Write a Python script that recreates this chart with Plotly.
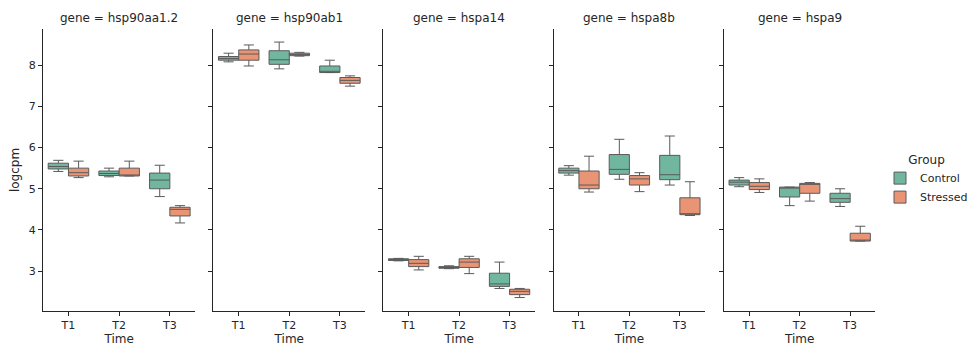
import plotly.graph_objects as go

genes = ["hsp90aa1.2", "hsp90ab1", "hspa14", "hspa8b", "hspa9"]
times = ["T1", "T2", "T3"]
groups = ["Control", "Stressed"]

# per gene -> per time
ctrl_lo  = [[5.42, 5.29, 4.81], [8.08, 7.91, 7.82], [3.25, 3.06, 2.58], [5.33, 5.23, 5.09], [5.05, 4.59, 4.57]]
ctrl_q1  = [[5.48, 5.32, 5.00], [8.12, 8.02, 7.82], [3.26, 3.07, 2.63], [5.38, 5.35, 5.22], [5.09, 4.80, 4.67]]
ctrl_med = [[5.54, 5.37, 5.21], [8.16, 8.13, 7.85], [3.28, 3.09, 2.69], [5.44, 5.47, 5.34], [5.16, 5.03, 4.76]]
ctrl_q3  = [[5.62, 5.43, 5.38], [8.21, 8.35, 7.98], [3.30, 3.11, 2.95], [5.50, 5.83, 5.81], [5.21, 5.04, 4.89]]
ctrl_hi  = [[5.69, 5.50, 5.57], [8.29, 8.56, 8.12], [3.31, 3.13, 3.22], [5.56, 6.20, 6.28], [5.27, 5.04, 5.00]]

str_lo  = [[5.27, 5.31, 4.17], [7.98, 8.22, 7.49], [3.03, 2.94, 2.36], [4.92, 4.93, 4.35], [4.91, 4.70, 3.73]]
str_q1  = [[5.31, 5.31, 4.34], [8.12, 8.23, 7.56], [3.11, 3.09, 2.43], [5.00, 5.09, 4.37], [4.98, 4.89, 3.73]]
str_med = [[5.39, 5.33, 4.50], [8.27, 8.26, 7.63], [3.19, 3.22, 2.51], [5.09, 5.24, 4.38], [5.06, 5.11, 3.74]]
str_q3  = [[5.50, 5.50, 4.55], [8.37, 8.29, 7.70], [3.28, 3.30, 2.56], [5.43, 5.32, 4.78], [5.15, 5.13, 3.92]]
str_hi  = [[5.67, 5.67, 4.59], [8.49, 8.31, 7.74], [3.36, 3.36, 2.58], [5.79, 5.39, 5.17], [5.24, 5.15, 4.09]]

colors = {"Control": "#71b7a0", "Stressed": "#e99575"}
line_gray = "#5a5a5a"
W, H = 973, 347
panel_px = [(43.3, 196), (214.3, 366.7), (385, 537), (556, 708), (727, 879)]
y_top_px, y_bot_px = 29.3, 310.7
y_range = [2.04, 8.87]
font = "DejaVu Sans"
txt = "#262626"

fig = go.Figure()
stats = {
    "Control": (ctrl_lo, ctrl_q1, ctrl_med, ctrl_q3, ctrl_hi),
    "Stressed": (str_lo, str_q1, str_med, str_q3, str_hi),
}
for i, g in enumerate(genes):
    ax = "" if i == 0 else str(i + 1)
    for grp in groups:
        lo, q1, med, q3, hi = stats[grp]
        fig.add_trace(go.Box(
            x=times, lowerfence=lo[i], q1=q1[i], median=med[i], q3=q3[i], upperfence=hi[i],
            name=grp, legendgroup=grp, showlegend=(i == 0), offsetgroup=grp,
            fillcolor=colors[grp], line=dict(color=line_gray, width=1),
            whiskerwidth=0.5, boxpoints=False, hoverinfo="skip",
            xaxis="x" + ax, yaxis="y" + ax,
        ))

layout = dict(
    width=W, height=H, margin=dict(l=0, r=0, t=0, b=0),
    paper_bgcolor="white", plot_bgcolor="white",
    boxmode="group", boxgap=0.2, boxgroupgap=0.0,
    font=dict(family=font, size=11, color=txt),
    legend=dict(x=884 / W, y=1 - 180 / H, xanchor="left", yanchor="middle",
                title=dict(text="Group", font=dict(size=12, color=txt), side="top center"),
                font=dict(size=11, color=txt), bgcolor="rgba(0,0,0,0)",
                itemwidth=30, tracegroupgap=0),
    annotations=[],
)
yd = [1 - y_bot_px / H, 1 - y_top_px / H]
for i, g in enumerate(genes):
    ax = "" if i == 0 else str(i + 1)
    x0, x1 = panel_px[i]
    layout["xaxis" + ax] = dict(
        domain=[x0 / W, x1 / W], anchor="y" + ax, type="category",
        categoryorder="array", categoryarray=times, range=[-0.5, 2.5],
        showline=True, linecolor="#262626", linewidth=1.25, ticks="outside",
        ticklen=4, tickwidth=1.1, tickcolor="#262626", showgrid=False, zeroline=False,
        tickfont=dict(size=11, color=txt),
        title=dict(text="Time", font=dict(size=12, color=txt), standoff=2),
    )
    layout["yaxis" + ax] = dict(
        domain=yd, anchor="x" + ax, range=y_range, tickvals=[3, 4, 5, 6, 7, 8],
        showticklabels=(i == 0), showline=True, linecolor="#262626", linewidth=1.25,
        ticks="outside", ticklen=4, tickwidth=1.1, tickcolor="#262626",
        showgrid=False, zeroline=False, tickfont=dict(size=11, color=txt),
        title=dict(text="logcpm" if i == 0 else "", font=dict(size=12, color=txt), standoff=6),
    )
    if i > 0:
        layout["yaxis" + ax]["matches"] = "y"
    layout["annotations"].append(dict(
        text=f"gene = {g}", x=(x0 + x1) / 2 / W, y=1 - 18 / H, xref="paper", yref="paper",
        showarrow=False, xanchor="center", yanchor="middle",
        font=dict(size=12, color=txt, family=font),
    ))

fig.update_layout(**layout)
fig.write_html("out.html")
